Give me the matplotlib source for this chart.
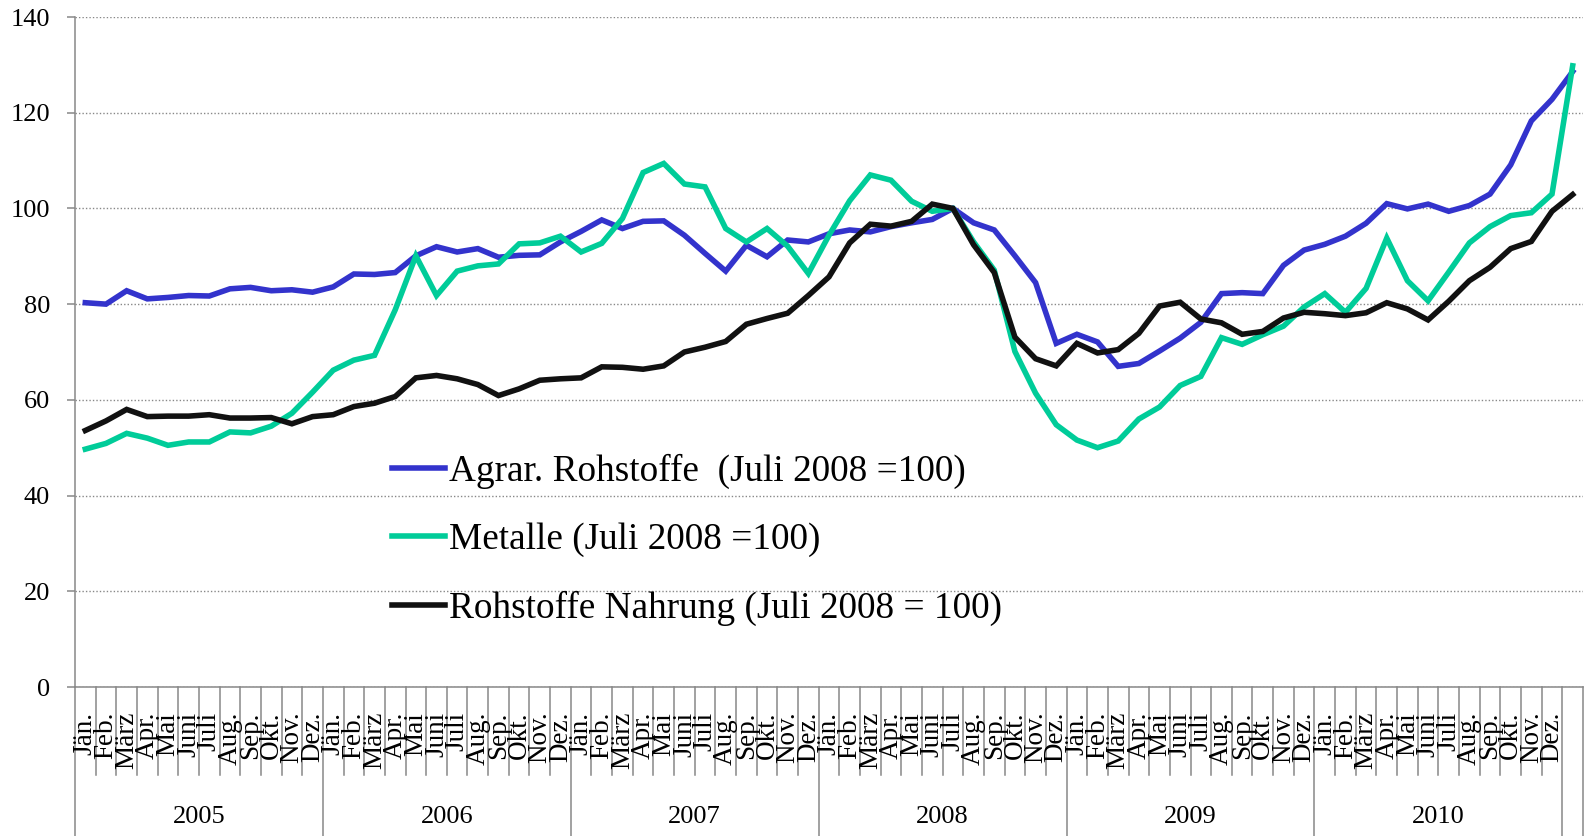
import matplotlib
matplotlib.use("Agg")
import matplotlib.pyplot as plt
import matplotlib.transforms as mtransforms

plt.rcParams['font.family'] = ['Liberation Serif', 'DejaVu Serif']

# month labels, years
months = ["Jän.", "Feb.", "März", "Apr.", "Mai", "Juni", "Juli",
          "Aug.", "Sep.", "Okt.", "Nov.", "Dez."]
years = ["2005", "2006", "2007", "2008", "2009", "2010"]

# index values (Juli 2008 = 100), Jän. 2005 .. Jän. 2011 (last point unlabeled)
agrar = [80.3, 80.0, 82.8, 81.1, 81.4, 81.8, 81.7, 83.2, 83.5, 82.8, 83.0, 82.5,
         83.6, 86.3, 86.2, 86.6, 90.1, 92.0, 90.9, 91.6, 89.8, 90.2, 90.3, 93.0,
         95.2, 97.6, 95.8, 97.3, 97.4, 94.4, 90.6, 86.9, 92.3, 89.9, 93.4, 93.0,
         94.7, 95.5, 95.1, 96.2, 97.0, 97.7, 100.0, 97.0, 95.5, 90.1, 84.5, 71.8,
         73.7, 72.1, 67.0, 67.6, 70.2, 72.9, 76.2, 82.2, 82.4, 82.2, 88.1, 91.3,
         92.5, 94.2, 96.9, 101.0, 99.9, 100.9, 99.4, 100.6, 103.0, 109.1, 118.3, 122.8,
         128.6]
metalle = [49.7, 50.9, 53.0, 52.0, 50.5, 51.2, 51.2, 53.3, 53.1, 54.5, 57.2, 61.6,
           66.2, 68.3, 69.3, 78.8, 90.1, 81.8, 86.9, 88.0, 88.4, 92.6, 92.8, 94.2,
           90.9, 92.7, 97.9, 107.5, 109.4, 105.1, 104.5, 95.8, 93.0, 95.8, 92.1, 86.4,
           94.4, 101.6, 107.0, 105.9, 101.5, 99.4, 100.0, 93.0, 87.1, 70.1, 61.4, 54.8,
           51.6, 50.0, 51.4, 56.0, 58.5, 63.0, 64.9, 73.0, 71.6, 73.6, 75.4, 79.4,
           82.2, 78.3, 83.3, 93.8, 84.9, 80.7, 86.7, 92.8, 96.2, 98.5, 99.1, 103.0,
           129.8]
nahrung = [53.6, 55.6, 58.0, 56.5, 56.6, 56.6, 56.9, 56.2, 56.2, 56.3, 55.0, 56.5,
           56.9, 58.6, 59.3, 60.7, 64.6, 65.1, 64.4, 63.2, 60.9, 62.3, 64.1, 64.4,
           64.6, 66.9, 66.8, 66.4, 67.1, 70.0, 71.0, 72.2, 75.8, 77.0, 78.1, 81.8,
           85.7, 92.8, 96.7, 96.3, 97.3, 100.9, 100.0, 92.4, 86.6, 73.1, 68.6, 67.1,
           71.8, 69.8, 70.5, 73.9, 79.6, 80.4, 76.9, 76.1, 73.7, 74.3, 77.1, 78.3,
           78.0, 77.6, 78.2, 80.3, 79.0, 76.7, 80.6, 84.9, 87.7, 91.6, 93.1, 99.4,
           102.9]

labels = ["Agrar. Rohstoffe  (Juli 2008 =100)",
          "Metalle (Juli 2008 =100)",
          "Rohstoffe Nahrung (Juli 2008 = 100)"]
colors = ["#3333CC", "#00CC99", "#111111"]

gray = "#888888"
n = len(agrar)
x = list(range(n))

fig = plt.figure(figsize=(15.84, 8.36), dpi=100)
ax = fig.add_axes([75 / 1584, 1 - 687 / 836, 1508 / 1584, 670 / 836])

for vals, c, lab in zip([agrar, metalle, nahrung], colors, labels):
    ax.plot(x, vals, color=c, lw=4.0, label=lab, solid_joinstyle='miter')

ax.set_xlim(-0.5, n - 0.5)
ax.set_ylim(0, 140)
ax.set_yticks(range(0, 141, 20))
ax.yaxis.grid(True, linestyle=(0, (1, 1.5)), color=gray, lw=1.0)
ax.set_axisbelow(True)
ax.set_xticks([])
ax.tick_params(axis='y', length=6, width=1.1, color=gray, pad=12, labelsize=19)
for s in ["top", "right"]:
    ax.spines[s].set_visible(False)
for s in ["left", "bottom"]:
    ax.spines[s].set_color(gray)
    ax.spines[s].set_linewidth(1.1)

# category axis: months and year groups
trans = mtransforms.blended_transform_factory(ax.transData, ax.transAxes)
for i in range(n + 1):
    xs = i - 0.5
    long_line = (i % 12 == 0) or (i == n)
    ybot = -0.25 if long_line else -0.131
    ax.plot([xs, xs], [0, ybot], transform=trans, clip_on=False,
            color=gray, lw=1.1)
for i in range(len(years) * 12):
    ax.text(i, -0.037, months[i % 12], transform=trans, rotation=90,
            ha='center', va='top', fontsize=19.5)
for k, yr in enumerate(years):
    ax.text(12 * k + 5.5, -0.194, yr, transform=trans, ha='center',
            va='center', fontsize=19)

ax.legend(loc='center left', bbox_to_anchor=(392 / 1584, 1 - 540 / 836),
          bbox_transform=fig.transFigure, frameon=False, fontsize=26.8,
          handlelength=1.42, handletextpad=0.12, labelspacing=0.9,
          borderpad=0, borderaxespad=0)

fig.savefig("out.png", dpi=100)
